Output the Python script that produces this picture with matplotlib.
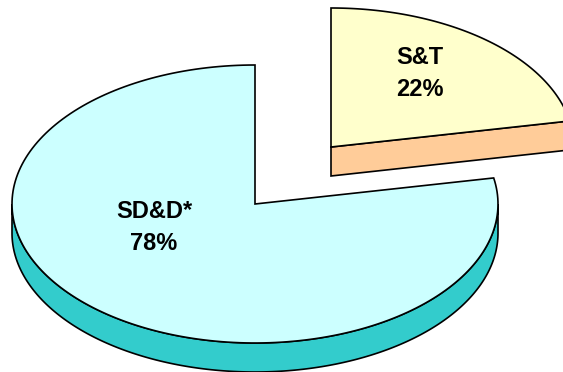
import numpy as np
import matplotlib.pyplot as plt
from matplotlib.patches import Polygon

# data
labels = ["SD&D*", "S&T"]
shares = [78, 22]
top_colors = ["#CCFFFF", "#FFFFCC"]
side_colors = ["#33CCCC", "#FFCC99"]

# geometry of the fake 3D pie (pixel coords, y down)
cx, cy = 255, 204
rx, ry = 243, 139
depth = 29
explode = [(0, 0), (76, -57)]
start = 90.0  # S&T starts at 12 o'clock and goes clockwise


def arc(x0, y0, a0, a1, n=200):
        t = np.radians(np.linspace(a0, a1, n))
        return np.column_stack([x0 + rx*np.cos(t), y0 - ry*np.sin(t)])


fig = plt.figure(figsize=(5.63, 3.72), dpi=100)
ax = fig.add_axes([0, 0, 1, 1])
ax.set_xlim(0, 563)
ax.set_ylim(372, 0)
ax.axis("off")

lw = 1.2
total = float(sum(shares))
small_span = 360*shares[1]/total
split = start - small_span          # angle where the two slices meet

# big slice (SD&D*) : from start going counterclockwise round to split+360
bx, by = cx + explode[0][0], cy + explode[0][1]
# outer wall, visible part only (front half)
top_edge = arc(bx, by, 180, 360)
wall = np.vstack([top_edge, (top_edge + [0, depth])[::-1]])
ax.add_patch(Polygon(wall, closed=True, fc=side_colors[0], ec="black", lw=lw))
big_top = np.vstack([[bx, by], arc(bx, by, start, split + 360)])
ax.add_patch(Polygon(big_top, closed=True, fc=top_colors[0], ec="black", lw=lw))

# small slice (S&T), exploded
sx, sy = cx + explode[1][0], cy + explode[1][1]
edge = arc(sx, sy, split, split, 1)[0]
front = np.array([[sx, sy], edge, edge + [0, depth], [sx, sy + depth]])
ax.add_patch(Polygon(front, closed=True, fc=side_colors[1], ec="black", lw=lw))
small_top = np.vstack([[sx, sy], arc(sx, sy, split, start)])
ax.add_patch(Polygon(small_top, closed=True, fc=top_colors[1], ec="black", lw=lw))

font = dict(family="Liberation Sans", fontsize=17, fontweight="bold",
            ha="center", va="center")
# label positions: (x, y of name line, y of percent line)
label_pos = [(154, 211, 243), (420, 57, 89)]
for name, pct, (lx, ly1, ly2) in zip(labels, shares, label_pos):
        ax.text(lx, ly1, name, **font)
        ax.text(lx, ly2, f"{pct}%", **font)

fig.savefig("out.png", dpi=100)
